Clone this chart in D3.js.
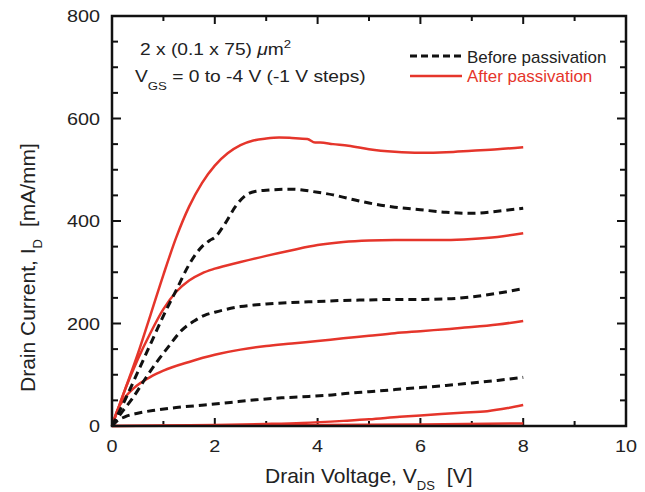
<!DOCTYPE html>
<html>
<head>
<meta charset="utf-8">
<script src="https://cdn.jsdelivr.net/npm/d3@7"></script>
<style>
  body { margin: 0; background: #fff; }
  text { font-family: "Liberation Sans", Arial, Helvetica, sans-serif; fill: #222; }
</style>
</head>
<body>
<script>
// Data (VDS in V, ID in mA/mm)
var xTicks = [0, 2, 4, 6, 8, 10];
var yTicks = [0, 200, 400, 600, 800];

// After passivation, VGS = 0, -1, -2, -3, -4 V
var after0 = [[0,0],[0.25,70],[0.5,140],[0.75,217],[1.0,295],[1.25,368],[1.5,428],[1.75,474],[2.0,508],[2.25,532],[2.5,548],[2.75,557],[3.0,561],[3.25,563],[3.5,562],[3.8,560],[3.95,553],[4.05,553],[4.3,550],[4.6,547],[5.0,540],[5.5,535],[6.0,533],[6.5,534],[7.0,537],[7.5,540],[8.0,544]];
var after1 = [[0,0],[0.25,70],[0.5,130],[0.75,182],[1.0,228],[1.25,262],[1.5,284],[1.75,298],[2.0,307],[2.5,320],[3.0,332],[3.5,343],[4.0,353],[4.5,359],[5.0,362],[5.5,363],[6.0,363],[6.5,363],[7.0,365],[7.5,369],[8.0,376]];
var after2 = [[0,0],[0.1,30],[0.25,55],[0.5,80],[0.75,96],[1.0,108],[1.5,125],[2.0,139],[2.5,149],[3.0,156],[3.5,161],[4.0,166],[4.5,171],[5.0,176],[5.5,181],[6.0,185],[6.5,189],[7.0,193],[7.5,198],[8.0,205]];
var after3 = [[0,0],[1,1],[2,2],[3,4],[3.7,6],[4.5,10],[5.0,13],[5.6,18],[6.2,22],[6.8,26],[7.3,29],[7.7,35],[8.0,41]];
var after4 = [[0,0],[2,1],[4,2],[6,3],[8,5]];

// Before passivation, VGS = 0, -1, -2 V
var before0 = [[0,0],[0.25,50],[0.5,105],[0.75,160],[1.0,215],[1.25,265],[1.5,315],[1.75,350],[1.9,362],[2.0,368],[2.2,395],[2.4,428],[2.6,450],[2.8,458],[3.0,460],[3.5,462],[4.0,456],[4.3,451],[4.6,444],[5.0,435],[5.5,427],[6.0,422],[6.5,417],[7.0,415],[7.5,419],[8.0,425]];
var before1 = [[0,0],[0.2,28],[0.4,54],[0.6,85],[0.85,122],[1.1,155],[1.35,186],[1.6,205],[1.8,216],[2.0,222],[2.5,233],[3.0,238],[3.5,241],[4.0,243],[4.5,245],[5.0,246],[5.5,247],[6.0,247],[6.5,248],[7.0,252],[7.5,259],[8.0,268]];
var before2 = [[0,0],[0.1,10],[0.25,18],[0.5,25],[0.85,31],[1.25,36],[1.8,41],[2.3,46],[2.8,51],[3.3,55],[3.7,57],[4.2,60],[4.6,64],[5.0,67],[5.5,71],[6.0,75],[6.5,79],[7.0,84],[7.5,89],[8.0,95]];

var afterCurves = [after0, after1, after2, after3, after4];
var beforeCurves = [before0, before1, before2];

var red = '#e5352b';

var margin = {top: 16, right: 19, bottom: 66, left: 112};
var width = 645 - margin.left - margin.right;
var height = 492 - margin.top - margin.bottom;

var svg = d3.select('body')
  .append('svg')
  .attr('width', 645)
  .attr('height', 492)
.append('g')
  .attr('transform', 'translate(' + margin.left + ',' + margin.top + ')');

var xScale = d3.scaleLinear().domain([0, 10]).range([0, width]);
var yScale = d3.scaleLinear().domain([0, 800]).range([height, 0]);

// ticks on all sides, pointing inward
var xMinor = d3.range(0, 10.01, 1);
var yMinor = d3.range(0, 800.1, 50);
function isMajorX(d) { return xTicks.indexOf(d) >= 0; }
function isMajorY(d) { return yTicks.indexOf(d) >= 0; }

var ticks = svg.append('g').attr('stroke', '#111').attr('stroke-width', 2);
ticks.selectAll('.xb').data(xMinor).enter().append('line')
  .attr('x1', xScale).attr('x2', xScale)
  .attr('y1', height).attr('y2', function(d){ return height - (isMajorX(d) ? 8 : 5); });
ticks.selectAll('.xt').data(xMinor).enter().append('line')
  .attr('x1', xScale).attr('x2', xScale)
  .attr('y1', 0).attr('y2', function(d){ return isMajorX(d) ? 8 : 5; });
ticks.selectAll('.yl').data(yMinor).enter().append('line')
  .attr('y1', yScale).attr('y2', yScale)
  .attr('x1', 0).attr('x2', function(d){ return isMajorY(d) ? 9 : 6; });
ticks.selectAll('.yr').data(yMinor).enter().append('line')
  .attr('y1', yScale).attr('y2', yScale)
  .attr('x1', width).attr('x2', function(d){ return width - (isMajorY(d) ? 9 : 6); });

// tick labels (the figure's lettering is a bit wide, so stretch it horizontally)
svg.selectAll('.xlab').data(xTicks).enter().append('text')
  .attr('transform', function(d){ return 'translate(' + xScale(d) + ',' + (height + 26) + ') scale(1.2,1)'; })
  .attr('text-anchor', 'middle')
  .style('font-size', '16.5px')
  .text(function(d){ return d; });
svg.selectAll('.ylab').data(yTicks).enter().append('text')
  .attr('transform', function(d){ return 'translate(-12,' + (yScale(d) + 6) + ') scale(1.2,1)'; })
  .attr('text-anchor', 'end')
  .style('font-size', '16.5px')
  .text(function(d){ return d; });

// curves
var line = d3.line()
  .x(function(d){ return xScale(d[0]); })
  .y(function(d){ return yScale(d[1]); })
  .curve(d3.curveMonotoneX);

svg.selectAll('.after').data(afterCurves).enter().append('path')
  .attr('d', line)
  .attr('fill', 'none')
  .attr('stroke', red)
  .attr('stroke-width', 2.5);

svg.selectAll('.before').data(beforeCurves).enter().append('path')
  .attr('d', line)
  .attr('fill', 'none')
  .attr('stroke', '#111')
  .attr('stroke-width', 3)
  .attr('stroke-dasharray', '8,5');

// frame
svg.append('rect')
  .attr('width', width).attr('height', height)
  .attr('fill', 'none')
  .attr('stroke', '#111')
  .attr('stroke-width', 2.5);

// axis titles
var xt = svg.append('text')
  .attr('x', 153).attr('y', height + 57)
  .style('font-size', '21px');
xt.append('tspan').text('Drain Voltage, V');
xt.append('tspan').attr('dy', 7).style('font-size', '13px').text('DS');
xt.append('tspan').attr('dy', -7).attr('dx', 12).text('[V]');

var yt = svg.append('text')
  .attr('transform', 'translate(-77,376) rotate(-90)')
  .style('font-size', '21px');
yt.append('tspan').text('Drain Current, I');
yt.append('tspan').attr('dy', 7).style('font-size', '13px').text('D');
yt.append('tspan').attr('dy', -7).attr('dx', 12).text('[mA/mm]');

// annotations
var a1 = svg.append('text').attr('transform', 'translate(28,39) scale(1.2,1)').style('font-size', '16px');
a1.append('tspan').text('2 x (0.1 x 75) ');
a1.append('tspan').style('font-style', 'italic').text('\u03bc');
a1.append('tspan').text('m');
a1.append('tspan').attr('dy', -7).style('font-size', '11px').text('2');

var a2 = svg.append('text').attr('transform', 'translate(23,66) scale(1.2,1)').style('font-size', '16px');
a2.append('tspan').text('V');
a2.append('tspan').attr('dy', 8).style('font-size', '11px').text('GS');
a2.append('tspan').attr('dy', -8).text(' = 0 to -4 V (-1 V steps)');

// legend
var legend = svg.append('g').attr('transform', 'translate(298,0)');
legend.append('line')
  .attr('x1', 0).attr('x2', 52).attr('y1', 40).attr('y2', 40)
  .attr('stroke', '#111').attr('stroke-width', 3).attr('stroke-dasharray', '7,4');
legend.append('text')
  .attr('transform', 'translate(57,47) scale(1.06,1)')
  .style('font-size', '16px')
  .text('Before passivation');
legend.append('line')
  .attr('x1', 0).attr('x2', 52).attr('y1', 60).attr('y2', 60)
  .attr('stroke', red).attr('stroke-width', 2.5);
legend.append('text')
  .attr('transform', 'translate(57,66) scale(1.06,1)')
  .style('font-size', '16px')
  .style('fill', red)
  .text('After passivation');
</script>
</body>
</html>
